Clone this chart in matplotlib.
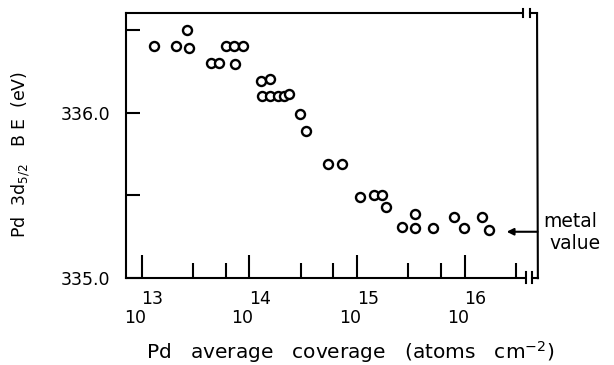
import matplotlib
matplotlib.use('Agg')
import matplotlib.pyplot as plt
from matplotlib.transforms import blended_transform_factory

# ============================================
# DATOS
# ============================================

# Cobertura media de Pd (átomos cm^-2)
coverage = [1.30e13, 2.10e13, 2.63e13, 2.75e13, 4.42e13, 5.25e13, 6.0e13,
            7.2e13, 8.7e13, 7.4e13, 1.29e14, 1.55e14, 1.32e14, 1.55e14,
            1.86e14, 2.09e14, 2.34e14, 2.95e14, 3.39e14, 5.37e14, 7.24e14,
            1.07e15, 1.45e15, 1.72e15, 1.86e15, 2.63e15, 3.47e15, 3.47e15,
            5.13e15, 7.94e15, 9.77e15, 1.45e16, 1.70e16]

# Energía de ligadura Pd 3d5/2 (eV)
binding_energy = [336.40, 336.40, 336.50, 336.39, 336.30, 336.30, 336.40,
                  336.40, 336.40, 336.29, 336.19, 336.20, 336.10, 336.10,
                  336.10, 336.10, 336.11, 335.99, 335.89, 335.69, 335.69,
                  335.49, 335.50, 335.50, 335.43, 335.31, 335.39, 335.30,
                  335.30, 335.37, 335.30, 335.37, 335.29]

metal_value = 335.28
major_exponents = [13, 14, 15, 16]
minor_mult = [3, 6]
y_ticks = [335.0, 335.5, 336.0, 336.5]
y_labels = ['335.0', '', '336.0', '']

# ============================================
# GRÁFICO
# ============================================

plt.rcParams['font.family'] = ['DejaVu Sans']

fig = plt.figure(figsize=(6.14, 3.65), dpi=100)
ax = fig.add_axes([0.205, 0.238, 0.671, 0.726])

ax.plot(coverage, binding_energy, 'o', mfc='white', mec='black',
        ms=6.5, mew=1.7, ls='none')

ax.set_xscale('log')
ax.set_xlim(10 ** 12.852, 10 ** 16.68)
ax.set_ylim(335.0, 336.6)

# ticks del eje x
major = [10.0 ** e for e in major_exponents]
minor = [m * 10.0 ** e for e in major_exponents for m in minor_mult]
minor = [v for v in minor if v < 10 ** 16.55]
ax.set_xticks(major)
ax.set_xticks(minor, minor=True)
ax.set_xticklabels([])
ax.set_xticklabels([], minor=True)
ax.tick_params(axis='x', which='major', direction='in', length=16.5,
               width=1.5, top=False)
ax.tick_params(axis='x', which='minor', direction='in', length=11,
               width=1.5, top=False)

# etiquetas tipo 10 con exponente arriba
trans_x = blended_transform_factory(ax.transData, ax.transAxes)
trans_y = blended_transform_factory(ax.transAxes, ax.transData)
for e in major_exponents:
    pos = 10.0 ** e
    ax.text(pos * 10 ** (-0.065), -0.15, '10', transform=trans_x,
            ha='center', va='center', fontsize=12.5)
    ax.text(pos * 10 ** (0.1), -0.08, str(e), transform=trans_x,
            ha='center', va='center', fontsize=12.5)

# ticks del eje y
ax.set_yticks(y_ticks)
ax.set_yticklabels(y_labels, fontsize=12.5)
ax.tick_params(axis='y', direction='in', length=10, width=1.5, pad=11,
               right=False)

for s in ['left', 'bottom', 'top', 'right']:
    ax.spines[s].set_linewidth(1.5)

# ejes cortados a la derecha
ax.spines['top'].set_bounds(10 ** 12.852, 10 ** 16.528)
ax.spines['bottom'].set_bounds(10 ** 12.852, 10 ** 16.556)
ax.spines['right'].set_visible(False)

kw = dict(transform=ax.transAxes, color='black', lw=1.5, clip_on=False)
ax.plot([0.964, 0.964], [0.985, 1.015], **kw)
ax.plot([0.981, 0.981], [0.985, 1.015], **kw)
ax.plot([0.981, 0.998], [1.0, 1.0], **kw)
ax.plot([0.971, 0.971], [-0.018, 0.022], **kw)
ax.plot([0.986, 0.986], [-0.018, 0.022], **kw)
ax.plot([0.986, 1.0], [0.0, 0.0], **kw)
ax.plot([0.998, 1.0], [1.0, 0.0], **kw)

# valor del metal
ax.annotate('', xy=(10 ** 16.39, metal_value), xycoords='data',
            xytext=(0.999, metal_value), textcoords=trans_y,
            arrowprops=dict(arrowstyle='-|>', color='black', lw=1.5,
                            mutation_scale=10, shrinkA=0, shrinkB=0))
ax.text(1.012, metal_value + 0.005, 'metal', transform=trans_y,
        ha='left', va='bottom', fontsize=13.5)
ax.text(1.028, metal_value - 0.015, 'value', transform=trans_y,
        ha='left', va='top', fontsize=13.5)

ax.set_ylabel(r'Pd  3d$_{\mathregular{5/2}}$   B E  (eV)', fontsize=12.5)
ax.yaxis.set_label_coords(-0.228, 0.465)
fig.text(0.571, 0.036,
         r'Pd   average   coverage   (atoms   cm$^{\mathregular{-2}}$)',
         ha='center', va='center', fontsize=14.5)

plt.savefig('out.png', dpi=100)
